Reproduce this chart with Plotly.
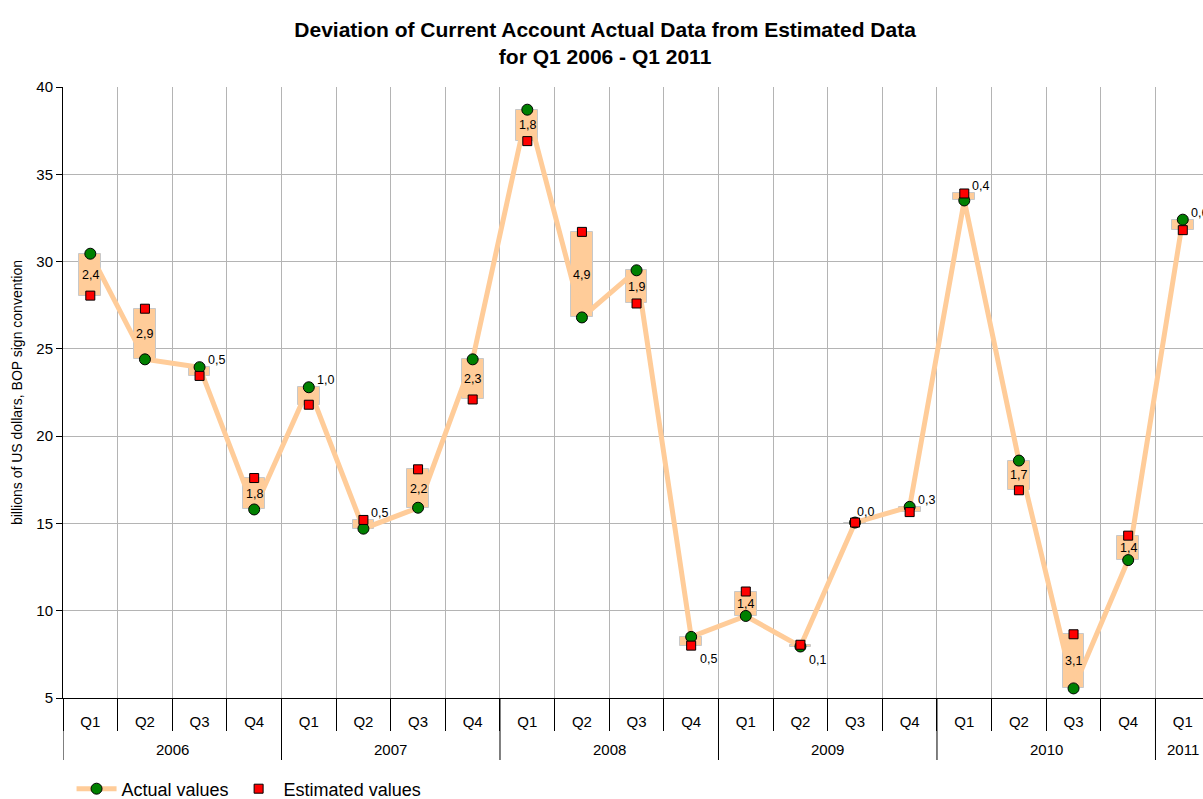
import plotly.graph_objects as go

years = ["2006"] * 4 + ["2007"] * 4 + ["2008"] * 4 + ["2009"] * 4 + ["2010"] * 4 + ["2011"]
quarters = ["Q1", "Q2", "Q3", "Q4"] * 5 + ["Q1"]

actual = [30.45, 24.4, 23.95, 15.8, 22.8, 14.7, 15.9, 24.4, 38.7, 26.8, 29.5, 8.5,
          9.7, 7.95, 15.05, 15.95, 33.5, 18.6, 5.55, 12.9, 32.4]
estimated = [28.05, 27.3, 23.45, 17.6, 21.8, 15.2, 18.1, 22.1, 36.9, 31.7, 27.6, 8.0,
             11.1, 8.05, 15.05, 15.65, 33.9, 16.9, 8.65, 14.3, 31.8]

# label placement style per point: mid = inside box, tr = top right, br = bottom right, tc = top center
label_style = ["mid", "mid", "tr", "mid", "tr", "tr", "mid", "mid", "mid", "mid", "mid", "br",
               "mid", "br", "tc", "tr", "tr", "mid", "mid", "mid", "tr"]

cats = [f"{q} {y}" for q, y in zip(quarters, years)]
lo = [min(a, e) for a, e in zip(actual, estimated)]
hi = [max(a, e) for a, e in zip(actual, estimated)]
diff = [h - l for h, l in zip(hi, lo)]
labels = [f"{round(d, 1):.1f}".replace(".", ",") for d in diff]

FONT = "Liberation Sans, Arial"
PLOT_H = 799 - 87 - 101

fig = go.Figure()
fig.add_trace(go.Bar(
    x=cats, y=diff, base=lo, width=0.4,
    marker=dict(color="#FFCC99", line=dict(color="#C8C8C8", width=1)),
    showlegend=False, hoverinfo="skip"))
fig.add_trace(go.Scatter(
    x=cats, y=actual, mode="lines+markers", name="Actual values",
    line=dict(color="#FFCC99", width=5),
    marker=dict(symbol="circle", size=11, color="#008000", line=dict(color="black", width=1))))
fig.add_trace(go.Scatter(
    x=cats, y=estimated, mode="markers", name="Estimated values",
    marker=dict(symbol="square", size=9, color="#FF0000", line=dict(color="black", width=1))))

annotations = []
# deviation labels
label_fmt = {
    "mid": dict(xanchor="center", yanchor="middle", xshift=0, yshift=0),
    "tr": dict(xanchor="left", yanchor="bottom", xshift=6, yshift=-2),
    "br": dict(xanchor="left", yanchor="top", xshift=7, yshift=-4),
    "tc": dict(xanchor="center", yanchor="bottom", xshift=10, yshift=2),
}
for c, s, l, h, t in zip(cats, label_style, lo, hi, labels):
    yv = (l + h) / 2 if s == "mid" else (l if s == "br" else h)
    annotations.append(dict(x=c, xref="x", y=yv, yref="y", text=t, showarrow=False,
                            font=dict(family=FONT, size=12.5, color="black"), **label_fmt[s]))

# year group labels and dividers below the axis
shapes = []
unique_years = list(dict.fromkeys(years))
for yr in unique_years:
    idx = [i for i, v in enumerate(years) if v == yr]
    start = idx[0] - 0.5
    shapes.append(dict(type="line", xref="x", yref="paper", x0=start, x1=start,
                       y0=0, y1=-62 / PLOT_H, line=dict(color="black", width=1)))
    annotations.append(dict(x=sum(idx) / len(idx), xref="x", y=-52 / PLOT_H, yref="paper",
                            text=yr, showarrow=False, xanchor="center", yanchor="middle",
                            font=dict(family=FONT, size=15, color="black")))

fig.update_layout(
    width=1203, height=799,
    margin=dict(l=63, r=0, t=87, b=101, autoexpand=False),
    paper_bgcolor="white", plot_bgcolor="white",
    font=dict(family=FONT, size=15, color="black"),
    title=dict(
        text="<b>Deviation of Current Account Actual Data from Estimated Data<br>for Q1 2006 - Q1 2011</b>",
        x=0.503, xanchor="center", y=1 - 36.5 / 799, yanchor="middle",
        font=dict(family=FONT, size=21, color="black")),
    bargap=0,
    showlegend=True,
    legend=dict(orientation="h", x=0.0075, xanchor="left", y=-91 / PLOT_H, yanchor="middle",
                font=dict(size=18), bgcolor="rgba(0,0,0,0)", itemwidth=40),
    shapes=shapes,
    annotations=annotations,
)
fig.update_xaxes(
    type="category", range=[-0.5, 20.37], automargin=False,
    tickmode="array", tickvals=cats, ticktext=quarters, tickson="boundaries",
    showgrid=True, gridcolor="#B4B4B4", gridwidth=1,
    showline=True, linecolor="black", linewidth=1,
    ticks="outside", ticklen=32, tickcolor="black",
    ticklabelstandoff=10,
    tickfont=dict(size=15))
fig.update_yaxes(
    range=[5, 40], dtick=5, tick0=5, automargin=False,
    showgrid=True, gridcolor="#B4B4B4", gridwidth=1,
    showline=True, linecolor="black", linewidth=1,
    ticks="outside", ticklen=6, tickcolor="black",
    zeroline=False,
    title=dict(text="billions of US dollars, BOP sign convention", font=dict(size=14), standoff=10),
    tickfont=dict(size=15))

fig.write_html("out.html", config={"displayModeBar": False},
               post_script="document.body.style.margin='0';document.body.style.overflow='hidden';")
